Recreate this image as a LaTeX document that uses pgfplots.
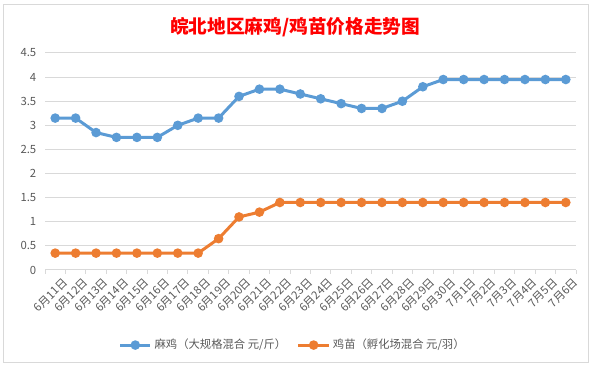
\documentclass[border=0pt]{standalone}
\usepackage{pgfplots}
\pgfplotsset{compat=1.18}
\usepackage{fontspec}
\setmainfont{Noto Sans CJK SC}
\newfontfamily\cjk{Noto Sans CJK SC}
\definecolor{sblue}{HTML}{5B9BD5}
\definecolor{sorange}{HTML}{ED7D31}
\definecolor{gridgray}{HTML}{D9D9D9}
\definecolor{txtgray}{HTML}{595959}
\begin{document}
\begin{tikzpicture}
\path[use as bounding box] (0,0) rectangle (444pt,275.25pt);
\draw[gridgray,line width=0.75pt] (2.25pt,3pt) rectangle (441pt,271.5pt);
\begin{axis}[
  at={(33.75pt,72.75pt)}, anchor=south west,
  width=398.25pt, height=162.75pt, scale only axis,
  xmin=-0.5, xmax=25.5, ymin=0, ymax=4.5,
  ytick={0,0.5,...,4.5},
  yticklabels={0,0.5,1,1.5,2,2.5,3,3.5,4,4.5},
  xtick={0,...,25},
  xticklabels={6月11日,6月12日,6月13日,6月14日,6月15日,6月16日,6月17日,6月18日,6月19日,6月20日,6月21日,6月22日,6月23日,6月24日,6月25日,6月26日,6月27日,6月28日,6月29日,6月30日,7月1日,7月2日,7月3日,7月4日,7月5日,7月6日},
  minor xtick={-0.5,0.5,...,25.5},
  major tick length=0pt, minor tick length=3pt,
  tick align=outside,
  minor tick style={gridgray, line width=0.75pt},
  axis x line*=bottom, axis y line*=left,
  x axis line style={gridgray, line width=0.75pt},
  y axis line style={draw=none},
  ymajorgrids, grid style={gridgray, line width=0.75pt},
  tick label style={font=\fontsize{8.5}{10}\selectfont, text=txtgray},
  xticklabel style={font=\fontsize{8.5}{10}\selectfont},
  /pgf/number format/assume math mode=true,
  xticklabel style={rotate=45, anchor=north east, inner sep=1pt, yshift=-6pt, xshift=1pt},
  yticklabel style={xshift=-3pt},
  title={皖北地区麻鸡/鸡苗价格走势图},
  title style={at={(0.471,1.08)}, anchor=center, text=red, font=\fontsize{14}{16}\selectfont\bfseries},
  legend style={at={(0.467,-0.346)}, anchor=center, draw=none, legend columns=2,
     font=\fontsize{8.5}{10}\selectfont, text=txtgray,
     /tikz/every even column/.append style={column sep=6pt}},
  legend image code/.code={\draw[mark repeat=2,mark phase=2] plot coordinates {(0cm,0cm) (0.4cm,0cm) (0.8cm,0cm)};},
  every axis plot/.append style={line width=2.25pt, mark=*, mark size=2.4pt, mark options={line width=0.5pt}},
]
\addplot[sblue, mark options={fill=sblue, draw=sblue}] coordinates {
(0,3.15) (1,3.15) (2,2.85) (3,2.75) (4,2.75) (5,2.75) (6,3.0) (7,3.15) (8,3.15) (9,3.6)
(10,3.75) (11,3.75) (12,3.65) (13,3.55) (14,3.45) (15,3.35) (16,3.35) (17,3.5) (18,3.8) (19,3.95)
(20,3.95) (21,3.95) (22,3.95) (23,3.95) (24,3.95) (25,3.95)};
\addlegendentry{麻鸡（大规格混合 元/斤）}
\addplot[sorange, mark options={fill=sorange, draw=sorange}] coordinates {
(0,0.35) (1,0.35) (2,0.35) (3,0.35) (4,0.35) (5,0.35) (6,0.35) (7,0.35) (8,0.65) (9,1.1)
(10,1.2) (11,1.4) (12,1.4) (13,1.4) (14,1.4) (15,1.4) (16,1.4) (17,1.4) (18,1.4) (19,1.4)
(20,1.4) (21,1.4) (22,1.4) (23,1.4) (24,1.4) (25,1.4)};
\addlegendentry{鸡苗（孵化场混合 元/羽）}
\end{axis}
\end{tikzpicture}
\end{document}
